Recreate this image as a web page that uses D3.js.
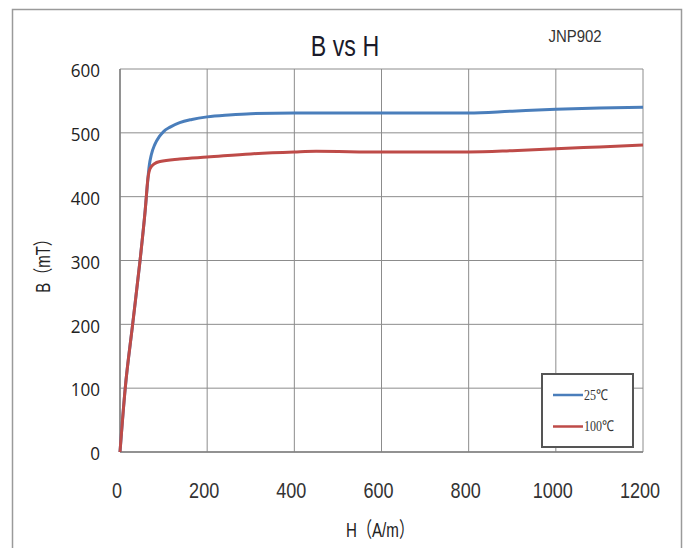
<!DOCTYPE html>
<html>
<head>
<meta charset="utf-8">
<script src="https://cdn.jsdelivr.net/npm/d3@7"></script>
<style>
  body { margin: 0; background: #fff; }
  svg { display: block; }
</style>
</head>
<body>
<div id="chart"></div>
<script>
// B-H curve values (H in A/m, B in mT)
const h25 = [0, 12, 29, 46, 58, 64, 67, 72, 80, 90, 100, 115, 137, 165, 200, 250, 300, 400, 600, 800, 900, 1000, 1100, 1200];
const b25 = [0, 100, 200, 300, 380, 428, 448, 466, 482, 494, 502, 509, 516, 521, 525, 528, 530, 531, 531, 531, 534, 537, 539, 540];
const h100 = [0, 12, 29, 46, 58, 64, 69, 80, 92, 137, 200, 300, 400, 450, 600, 800, 900, 1000, 1100, 1200];
const b100 = [0, 100, 200, 300, 380, 428, 444, 452, 455, 459, 462, 467, 470, 471, 470, 470, 472, 475, 478, 481];
const xTicks = [0, 200, 400, 600, 800, 1000, 1200];
const yTicks = [0, 100, 200, 300, 400, 500, 600];
const seriesNames = ['25℃', '100℃'];
const seriesColors = ['#4a7ebb', '#be4b48'];

const width = 685, height = 548;
const plot = { left: 120, right: 643, top: 69, bottom: 452 };

const svg = d3.select('#chart').append('svg')
    .attr('width', width)
    .attr('height', height);

// outer chart frame (runs off the bottom like the original)
svg.append('rect')
    .attr('x', 12.5).attr('y', 9.5)
    .attr('width', 669).attr('height', 560)
    .attr('fill', 'none')
    .attr('stroke', '#9a9a9a')
    .attr('stroke-width', 1.5);

const x = d3.scaleLinear().domain([0, 1200]).range([plot.left, plot.right]);
const y = d3.scaleLinear().domain([0, 600]).range([plot.bottom, plot.top]);

// helper for squeezed text (the original font is narrow)
function label(txt, px, py, size, sx, opts = {}) {
    const t = svg.append('text')
        .attr('transform', `translate(${px},${py})${opts.rotate ? ' rotate(' + opts.rotate + ')' : ''} scale(${sx},1)`)
        .attr('font-family', opts.family || '"Liberation Sans", Arial, sans-serif')
        .attr('font-size', size)
        .attr('fill', opts.fill || '#222')
        .attr('text-anchor', opts.anchor || 'middle')
        .attr('dominant-baseline', 'central')
        .text(txt);
    return t;
}

// grid
svg.append('g')
    .selectAll('line.v')
    .data(xTicks)
    .join('line')
    .attr('x1', d => x(d)).attr('x2', d => x(d))
    .attr('y1', plot.top).attr('y2', plot.bottom)
    .attr('stroke', '#8c8c8c')
    .attr('stroke-width', 1);

svg.append('g')
    .selectAll('line.h')
    .data(yTicks)
    .join('line')
    .attr('x1', plot.left).attr('x2', plot.right)
    .attr('y1', d => y(d)).attr('y2', d => y(d))
    .attr('stroke', '#8c8c8c')
    .attr('stroke-width', 1);

// axis lines slightly darker
svg.append('line')
    .attr('x1', plot.left).attr('x2', plot.left)
    .attr('y1', plot.top).attr('y2', plot.bottom)
    .attr('stroke', '#808080').attr('stroke-width', 1.5);
svg.append('line')
    .attr('x1', plot.left).attr('x2', plot.right)
    .attr('y1', plot.bottom).attr('y2', plot.bottom)
    .attr('stroke', '#808080').attr('stroke-width', 1.5);

// tick labels
xTicks.forEach(v => label(String(v), x(v) - 3, 490, 22, 0.82, { fill: '#333' }));
yTicks.forEach(v => label(String(v), 100, y(v) + 1, 18, 0.95, { anchor: 'end', family: '"Open Sans", "Noto Sans", sans-serif' }));

// titles
label('B vs H', 345, 46, 29, 0.8, { fill: '#1a1a2a' });
label('JNP902', 575, 36, 17, 0.88, { fill: '#333' });
label('H（A/m）', 380, 530, 21, 0.72, { family: '"Liberation Sans", "Noto Sans CJK JP", sans-serif' });
label('B（mT）', 43, 262, 20, 0.75, { rotate: -90, family: '"Liberation Sans", "Noto Sans CJK JP", sans-serif' });

// curves
const line = d3.line()
    .x(d => x(d[0]))
    .y(d => y(d[1]))
    .curve(d3.curveMonotoneX);

const series = [d3.zip(h25, b25), d3.zip(h100, b100)];
series.forEach((pts, i) => {
    svg.append('path')
        .datum(pts)
        .attr('d', line)
        .attr('fill', 'none')
        .attr('stroke', seriesColors[i])
        .attr('stroke-width', 3)
        .attr('stroke-linejoin', 'round');
});

// legend
const lg = svg.append('g').attr('transform', 'translate(542,374)');
lg.append('rect')
    .attr('width', 91).attr('height', 73)
    .attr('fill', '#fff')
    .attr('stroke', '#555')
    .attr('stroke-width', 2);
seriesNames.forEach((name, i) => {
    const ly = 21 + i * 31.5;
    lg.append('line')
        .attr('x1', 11).attr('x2', 41)
        .attr('y1', ly).attr('y2', ly)
        .attr('stroke', seriesColors[i])
        .attr('stroke-width', 2.5);
    lg.append('text')
        .attr('transform', `translate(42,${ly}) scale(0.8,1)`)
        .attr('font-family', '"Liberation Serif", serif')
        .attr('font-size', 15)
        .attr('fill', '#333')
        .attr('dominant-baseline', 'central')
        .text(name);
});
</script>
</body>
</html>
